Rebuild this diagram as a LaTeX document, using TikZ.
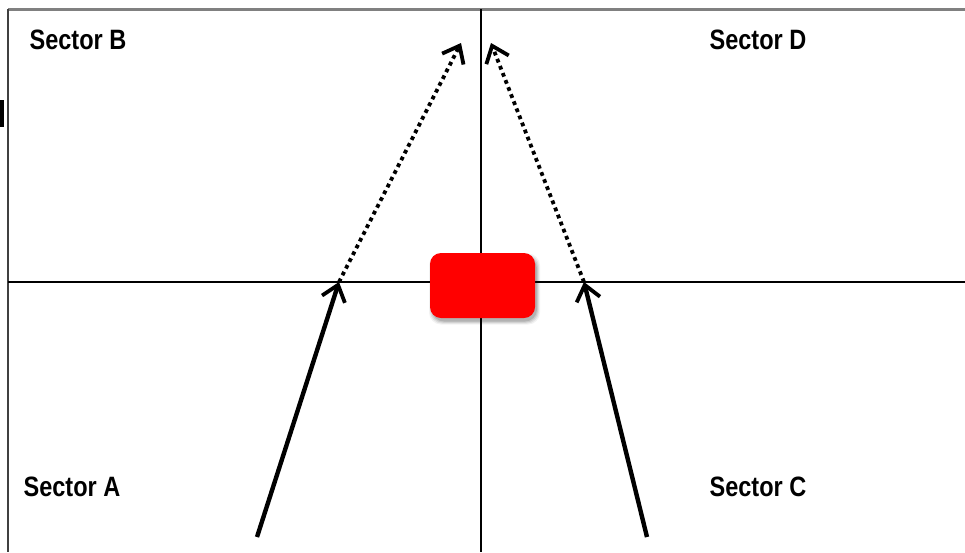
\documentclass[tikz,border=0pt]{standalone}
\usepackage{fontspec}
\setmainfont{Liberation Sans}
\newfontfamily\lblfont{Liberation Sans Bold}[FakeStretch=0.84]
\usetikzlibrary{arrows.meta,shadows}
\tikzset{
  axis/.style={draw=black,line width=2.6pt},
  frameline/.style={draw=black!50,line width=3pt},
  sidebar/.style={draw=black!75,line width=1.4pt},
  label/.style={font=\lblfont\fontsize{28}{30}\selectfont,inner sep=0pt,text=black},
  redbox/.style={fill=red,draw=none,rounded corners=11pt,minimum width=105pt,minimum height=65pt,inner sep=0pt},
  shadowbox/.style={fill=black,draw=none,rounded corners=12pt,minimum width=107pt,minimum height=67pt,inner sep=0pt},
  solidarrow/.style={draw=black,line width=4.4pt,-{Straight Barb[length=15pt,width=24pt,line width=3.8pt]}},
  dotarrow/.style={draw=black,line width=3.8pt,line cap=butt,dash pattern=on 3.8pt off 3.8pt,-{Straight Barb[length=15pt,width=24pt,line width=3.8pt]}}
}
\begin{document}
\begin{tikzpicture}[x=1pt,y=-1pt]
\useasboundingbox[fill=white] (0,0) rectangle (965,552);
% frame
\coordinate (tl) at (8,9);
\coordinate (tr) at (965,9);
\coordinate (bl) at (8,552);
\draw[frameline] (tl) -- (tr);
\draw[sidebar] (tl) -- (bl);
\fill[black] (0,100) rectangle (3.5,127);
% axes
\coordinate (vtop) at (481,9);
\coordinate (vbot) at (481,552);
\coordinate (hl) at (8,282);
\coordinate (hr) at (965,282);
\draw[axis] (vtop) -- (vbot);
\draw[axis] (hl) -- (hr);
% soft shadow of red box
\foreach \s/\o in {6/0.05,4/0.07,2/0.09,0/0.12}{
  \node[shadowbox,opacity=\o,minimum width=105pt+\s pt,minimum height=65pt+\s pt] at (484.5,289) {};
}
% red box
\node[redbox] (box) at (482.5,285.5) {};
% labels
\node[label] (sb) at (78,40) {Sector B};
\node[label] (sd) at (758,40) {Sector D};
\node[label] (sa) at (72,487) {Sector A};
\node[label] (sc) at (758,487) {Sector C};
% arrow points
\coordinate (a0) at (257,537);
\coordinate (a1) at (339,282);
\coordinate (a2) at (461,43);
\coordinate (c0) at (647,537);
\coordinate (c1) at (584,282);
\coordinate (c2) at (491,43);
\draw[dotarrow] (a1) -- (a2);
\draw[dotarrow] (c1) -- (c2);
\draw[solidarrow] (a0) -- (a1);
\draw[solidarrow] (c0) -- (c1);
\end{tikzpicture}
\end{document}
